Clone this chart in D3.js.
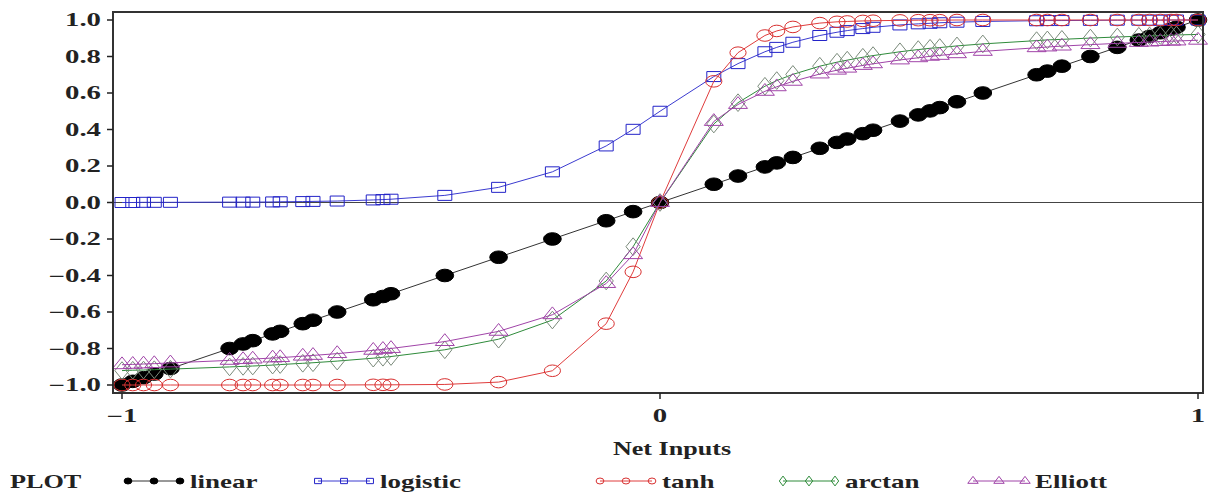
<!DOCTYPE html>
<html>
<head>
<meta charset="utf-8">
<script src="https://cdn.jsdelivr.net/npm/d3@7"></script>
<style>
  body { margin: 0; background: #fff; }
  svg text { font-family: "Liberation Serif", "DejaVu Serif", serif; font-weight: bold; fill: #222; }
</style>
</head>
<body>
<svg id="chart"></svg>
<script>
// net inputs (shared by every series)
const netInputs = [-1.00, -0.98, -0.96, -0.94, -0.91, -0.80, -0.775, -0.757, -0.72, -0.706,
  -0.664, -0.645, -0.60, -0.533, -0.515, -0.50, -0.40, -0.30, -0.20, -0.10,
  -0.05, 0.00, 0.10, 0.145, 0.195, 0.217, 0.247, 0.297, 0.329, 0.348,
  0.377, 0.396, 0.446, 0.48, 0.502, 0.52, 0.552, 0.60, 0.70, 0.72,
  0.747, 0.80, 0.85, 0.89, 0.91, 0.93, 0.95, 0.96, 1.00];

const linear = [-1.00, -0.98, -0.96, -0.94, -0.91, -0.80, -0.775, -0.757, -0.72, -0.706,
  -0.664, -0.645, -0.60, -0.533, -0.515, -0.50, -0.40, -0.30, -0.20, -0.10,
  -0.05, 0.00, 0.10, 0.145, 0.195, 0.217, 0.247, 0.297, 0.329, 0.348,
  0.377, 0.396, 0.446, 0.48, 0.502, 0.52, 0.552, 0.60, 0.70, 0.72,
  0.747, 0.80, 0.85, 0.89, 0.91, 0.93, 0.95, 0.96, 1.00];

const logistic = [0.000, 0.000, 0.001, 0.001, 0.001, 0.002, 0.002, 0.002, 0.003, 0.004,
  0.005, 0.006, 0.008, 0.014, 0.016, 0.018, 0.039, 0.083, 0.168, 0.310,
  0.401, 0.500, 0.690, 0.761, 0.826, 0.850, 0.878, 0.915, 0.933, 0.942,
  0.953, 0.960, 0.973, 0.979, 0.982, 0.985, 0.988, 0.992, 0.996, 0.997,
  0.997, 0.998, 0.999, 0.999, 0.999, 0.999, 1.000, 1.000, 1.000];

const tanh = [-1.000, -1.000, -1.000, -1.000, -1.000, -1.000, -1.000, -1.000, -1.000, -1.000,
  -1.000, -1.000, -1.000, -0.999, -0.999, -0.999, -0.997, -0.984, -0.922, -0.664,
  -0.380, 0.000, 0.664, 0.821, 0.915, 0.940, 0.962, 0.983, 0.990, 0.992,
  0.995, 0.996, 0.998, 0.999, 0.999, 0.999, 1.000, 1.000, 1.000, 1.000,
  1.000, 1.000, 1.000, 1.000, 1.000, 1.000, 1.000, 1.000, 1.000];

const arctan = [-0.921, -0.919, -0.918, -0.916, -0.913, -0.901, -0.898, -0.896, -0.891, -0.888,
  -0.881, -0.878, -0.869, -0.853, -0.848, -0.844, -0.807, -0.749, -0.644, -0.430,
  -0.242, 0.000, 0.430, 0.547, 0.637, 0.668, 0.702, 0.747, 0.769, 0.780,
  0.796, 0.805, 0.826, 0.838, 0.845, 0.849, 0.858, 0.869, 0.887, 0.891,
  0.894, 0.901, 0.907, 0.911, 0.913, 0.915, 0.917, 0.918, 0.921];

const elliott = [-0.889, -0.887, -0.885, -0.883, -0.879, -0.865, -0.861, -0.858, -0.852, -0.850,
  -0.842, -0.838, -0.828, -0.810, -0.805, -0.800, -0.762, -0.706, -0.615, -0.444,
  -0.286, 0.000, 0.444, 0.537, 0.609, 0.634, 0.664, 0.704, 0.725, 0.736,
  0.751, 0.760, 0.781, 0.793, 0.801, 0.806, 0.815, 0.828, 0.848, 0.852,
  0.857, 0.865, 0.872, 0.877, 0.879, 0.882, 0.884, 0.885, 0.889];

const seriesNames = ["linear", "logistic", "tanh", "arctan", "Elliott"];
const yTicks = [1.0, 0.8, 0.6, 0.4, 0.2, 0.0, -0.2, -0.4, -0.6, -0.8, -1.0];
const yTickLabels = ["1.0", "0.8", "0.6", "0.4", "0.2", "0.0", "\u22120.2", "\u22120.4", "\u22120.6", "\u22120.8", "\u22121.0"];
const xTicks = [-1, 0, 1];
const xTickLabels = ["\u22121", "0", "1"];

const width = 1208, height = 493;
const svg = d3.select("#chart").attr("width", width).attr("height", height);

const frame = { left: 113, right: 1203, top: 12, bottom: 393 };
const x = d3.scaleLinear().domain([-1, 1]).range([122, 1198]);
const y = d3.scaleLinear().domain([-1, 1]).range([385, 20]);

const styles = {
  linear:   { color: "#000",    line: "#333",    symbol: d3.symbolCircle,   size: 125, fill: "#000" },
  logistic: { color: "#2323c8", line: "#3b3bd0", symbol: d3.symbolSquare,   size: 100, fill: "none" },
  tanh:     { color: "#d83030", line: "#e03c3c", symbol: d3.symbolCircle,   size: 105, fill: "none" },
  arctan:   { color: "#7a8a7a", line: "#2e8b3a", symbol: d3.symbolDiamond,  size: 90,  fill: "none" },
  Elliott:  { color: "#a044a8", line: "#a044a8", symbol: d3.symbolTriangle, size: 80,  fill: "none" }
};
const values = { linear, logistic, tanh, arctan, Elliott: elliott };

// text is drawn horizontally stretched, like the original output
function label(sel, tx, ty, str, size, anchor, stretch) {
  return sel.append("text")
    .attr("transform", `translate(${tx},${ty}) scale(${stretch},1)`)
    .attr("dy", "0.35em")
    .attr("text-anchor", anchor)
    .style("font-size", size + "px")
    .text(str);
}

// y = 0 reference line
svg.append("line")
  .attr("x1", frame.left).attr("x2", frame.right)
  .attr("y1", y(0)).attr("y2", y(0))
  .attr("stroke", "#444").attr("stroke-width", 1.2);

// series
seriesNames.forEach(name => {
  const st = styles[name];
  const pts = netInputs.map((v, i) => [v, values[name][i]]);
  svg.append("path")
    .datum(pts)
    .attr("fill", "none")
    .attr("stroke", st.line)
    .attr("stroke-width", 1)
    .attr("d", d3.line().x(d => x(d[0])).y(d => y(d[1])));
  svg.append("g")
    .selectAll("path")
    .data(pts)
    .enter()
    .append("path")
    .attr("transform", d => `translate(${x(d[0])},${y(d[1])}) scale(1.4,1)`)
    .attr("d", d3.symbol().type(st.symbol).size(st.size))
    .attr("fill", st.fill)
    .attr("stroke", st.color)
    .attr("stroke-width", 1)
    .attr("vector-effect", "non-scaling-stroke");
});

// frame
svg.append("rect")
  .attr("x", frame.left).attr("y", frame.top)
  .attr("width", frame.right - frame.left).attr("height", frame.bottom - frame.top)
  .attr("fill", "none").attr("stroke", "#333").attr("stroke-width", 2);

// y axis
const yAxis = svg.append("g");
yTicks.forEach((t, i) => {
  yAxis.append("line")
    .attr("x1", frame.left - 6).attr("x2", frame.left)
    .attr("y1", y(t)).attr("y2", y(t))
    .attr("stroke", "#222").attr("stroke-width", 1.5);
  label(yAxis, frame.left - 12, y(t), yTickLabels[i], 18, "end", 1.6);
});

// x axis
const xAxis = svg.append("g");
xTicks.forEach((t, i) => {
  xAxis.append("line")
    .attr("x1", x(t)).attr("x2", x(t))
    .attr("y1", frame.bottom).attr("y2", frame.bottom + 6)
    .attr("stroke", "#222").attr("stroke-width", 1.5);
  label(xAxis, x(t), 416, xTickLabels[i], 18, "middle", 1.6);
});

label(svg, 672, 449, "Net Inputs", 18, "middle", 1.45);

// legend
const legendY = 481;
label(svg, 10, legendY, "PLOT", 19, "start", 1.38);

const legendX = [128, 318, 600, 783, 973];
seriesNames.forEach((name, i) => {
  const st = styles[name];
  const g = svg.append("g").attr("transform", `translate(${legendX[i]},${legendY})`);
  g.append("line").attr("x1", 0).attr("x2", 52).attr("y1", 0).attr("y2", 0)
    .attr("stroke", st.line).attr("stroke-width", 1);
  [0, 26, 52].forEach(dx => {
    g.append("path")
      .attr("transform", `translate(${dx},0) scale(1.3,1)`)
      .attr("d", d3.symbol().type(st.symbol).size(28))
      .attr("fill", st.fill)
      .attr("stroke", name === "arctan" ? st.line : st.color)
      .attr("stroke-width", 1)
      .attr("vector-effect", "non-scaling-stroke");
  });
  label(g, 62, 0, name, 19, "start", 1.42);
});
</script>
</body>
</html>
